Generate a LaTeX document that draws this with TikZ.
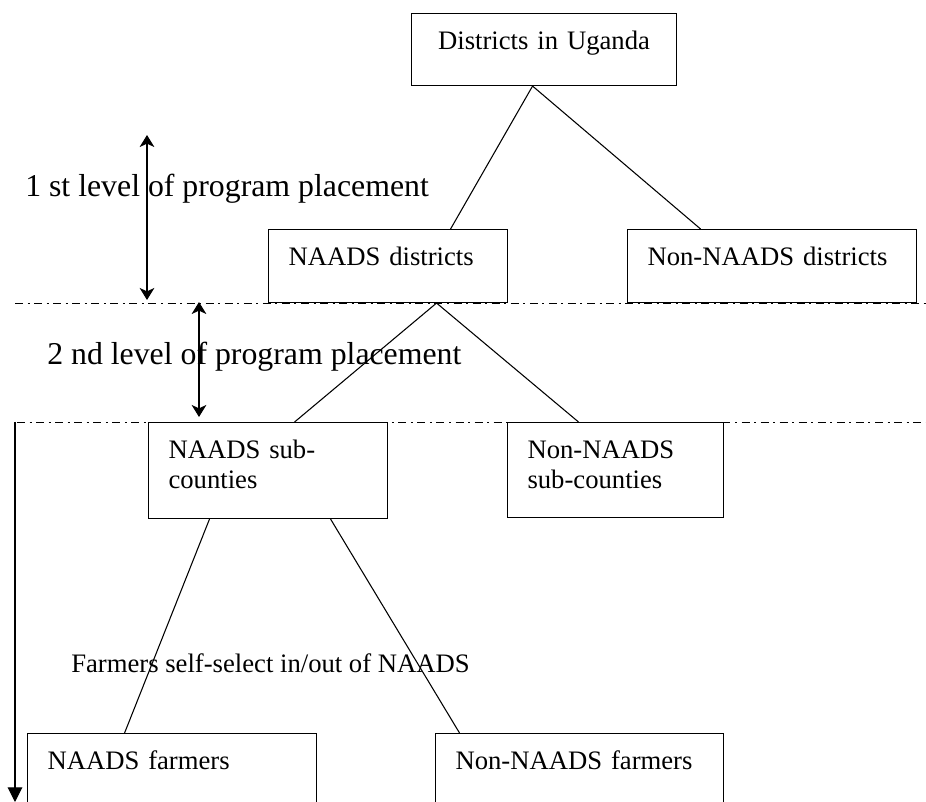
\documentclass[tikz,border=0pt]{standalone}
\usepackage{fontspec}
\setmainfont{Liberation Serif}
\usetikzlibrary{arrows.meta}
\newcommand{\boxfont}{\fontsize{20}{22.5}\selectfont}
\newcommand{\levelfont}{\fontsize{23.85}{28}\selectfont}
\tikzset{
  box/.style={draw, line width=0.8pt, anchor=north west, align=left,
    inner xsep=15pt, inner ysep=0pt, text height=27pt, font=\boxfont},
  level/.style={anchor=base west, inner sep=0pt, font=\levelfont},
  link/.style={line width=0.8pt},
  dashdot/.style={line width=0.7pt, dash pattern=on 6pt off 3.4pt on 1.5pt off 3.4pt},
  twoway/.style={line width=0.9pt,
    {Stealth[length=9pt,width=11pt,inset=2.5pt]}-{Stealth[length=9pt,width=11pt,inset=2.5pt]}}
}
\begin{document}
\begin{tikzpicture}[x=0.75pt, y=-0.75pt]
    \useasboundingbox (0,0) rectangle (926,802);
    \node [box, align=center, text width=168.75pt, text depth=27pt] (D) at (411,13) {Districts in Uganda};
    \node [box, text width=149.25pt, text depth=27.75pt] (ND) at (268,229) {NAADS districts};
    \node [box, text width=186.75pt, text depth=27.75pt] (NND) at (627,229) {Non-NAADS districts};
    \node [box, text width=149.25pt, text depth=45pt] (NS) at (148,422) {NAADS sub-\\counties};
    \node [box, text width=132pt, text depth=44.25pt] (NNS) at (507,422) {Non-NAADS\\sub-counties};
    \node [box, text width=186.75pt, text depth=30pt] (NF) at (27,733) {NAADS farmers};
    \node [box, text width=186pt, text depth=30pt] (NNF) at (435,733) {Non-NAADS farmers};

    \draw [link] ([xshift=-8.6pt]D.south) -- ([xshift=46.9pt]ND.north);
    \draw [link] ([xshift=-8.6pt]D.south) -- ([xshift=-53.6pt]NND.north);
    \draw [link] ([xshift=36.4pt]ND.south) -- ([xshift=19.9pt]NS.north);
    \draw [link] ([xshift=36.4pt]ND.south) -- ([xshift=-27.75pt]NNS.north);
    \draw [link] ([xshift=-43.9pt]NS.south) -- ([xshift=-35.6pt]NF.north);
    \draw [link] ([xshift=46.9pt]NS.south) -- ([xshift=-90pt]NNF.north);

    \coordinate (L1a) at (15,303);
    \coordinate (L1b) at (926,303);
    \coordinate (L2a) at (17,422);
    \coordinate (L2b) at (926,422);
    \draw [dashdot] (L1a) -- (L1b);
    \draw [dashdot] (L2a) -- (L2b);

    \coordinate (A1) at (147,135);
    \coordinate (B1) at (147,300);
    \coordinate (A2) at (199,302);
    \coordinate (B2) at (199,417);
    \coordinate (S) at (15,422);
    \coordinate (E) at (15,802);
    \draw [twoway] (A1) -- (B1);
    \draw [twoway] (A2) -- (B2);
    \draw [line width=0.8pt, -{Triangle[length=11pt,width=11pt]}] (S) -- (E);

    \node [level] (first) at (25,197) {1 st level of program placement};
    \node [level] (second) at (47,365) {2 nd level of program placement};
    \node [anchor=base west, inner sep=0pt, font=\boxfont] (self) at (71,672) {Farmers self-select in/out of NAADS};
\end{tikzpicture}
\end{document}
